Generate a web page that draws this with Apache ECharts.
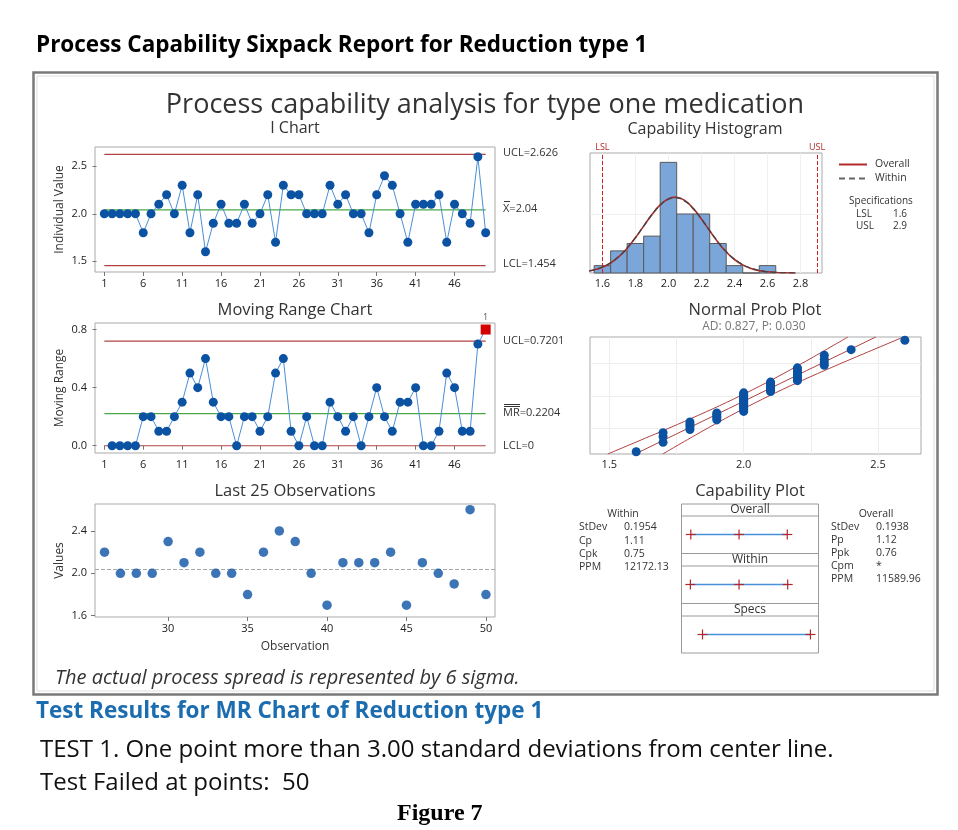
<!DOCTYPE html>
<html><head><meta charset="utf-8">
<script src="https://cdn.jsdelivr.net/npm/echarts@6/dist/echarts.min.js"></script>
<style>html,body{margin:0;padding:0;background:#fff}#c{width:958px;height:830px}</style>
</head><body><div id="c"></div>
<script>
const FONT = "'Open Sans','Noto Sans',sans-serif";

// ---------- DATA ----------
// I chart (observations 1..50)
const iValues = [2.0,2.0,2.0,2.0,2.0,1.8,2.0,2.1,2.2,2.0, 2.3,1.8,2.2,1.6,1.9,2.1,1.9,1.9,2.1,1.9,
                 2.0,2.2,1.7,2.3,2.2,2.2,2.0,2.0,2.0,2.3, 2.1,2.2,2.0,2.0,1.8,2.2,2.4,2.3,2.0,1.7,
                 2.1,2.1,2.1,2.2,1.7,2.1,2.0,1.9,2.6,1.8];
const iLimits = {UCL: 2.626, CL: 2.04, LCL: 1.454};
const obsTicks = [1,6,11,16,21,26,31,36,41,46];
const iYTicks = [1.5,2.0,2.5];
// Moving range (observations 2..50)
const mrValues = [0,0,0,0,0.2,0.2,0.1,0.1,0.2, 0.3,0.5,0.4,0.6,0.3,0.2,0.2,0,0.2,0.2,
                  0.1,0.2,0.5,0.6,0.1,0,0.2,0,0,0.3, 0.2,0.1,0.2,0,0.2,0.4,0.2,0.1,0.3,0.3,
                  0.4,0,0,0.1,0.5,0.4,0.1,0.1,0.7,0.8];
const mrLimits = {UCL: 0.7201, CL: 0.2204, LCL: 0};
const mrFlagged = [50];
const mrYTicks = [0,0.4,0.8];
// Last 25 observations
const last25Obs = [26,27,28,29,30,31,32,33,34,35,36,37,38,39,40,41,42,43,44,45,46,47,48,49,50];
const last25Values = [2.2,2.0,2.0,2.0,2.3,2.1,2.2,2.0,2.0,1.8,2.2,2.4,2.3,2.0,1.7,2.1,2.1,2.1,2.2,1.7,2.1,2.0,1.9,2.6,1.8];
const last25XTicks = [30,35,40,45,50];
const last25YTicks = [1.6,2.0,2.4];
// Capability histogram
const histCenters = [1.6,1.7,1.8,1.9,2.0,2.1,2.2,2.3,2.4,2.5,2.6];
const histCounts  = [1,3,4,5,15,8,8,4,1,0,1];
const histBinWidth = 0.1;
const histTicks = [1.6,1.8,2.0,2.2,2.4,2.6,2.8];
const curveX       = [1.52,1.55,1.6,1.65,1.7,1.75,1.8,1.85,1.9,1.95,2.0,2.04,2.05,2.1,2.15,2.2,2.25,2.3,2.35,2.4,2.45,2.5,2.55,2.6,2.65,2.7,2.77];
const curveOverall = [0.28,0.42,0.78,1.36,2.21,3.36,4.78,6.36,7.92,9.24,10.07,10.29,10.28,9.81,8.76,7.32,5.72,4.18,2.86,1.83,1.10,0.62,0.32,0.16,0.07,0.03,0.01];
const curveWithin  = [0.30,0.44,0.81,1.39,2.25,3.40,4.80,6.36,7.90,9.18,10.00,10.21,10.20,9.74,8.71,7.30,5.73,4.21,2.90,1.87,1.13,0.64,0.34,0.17,0.08,0.03,0.01];
const specNames = ['LSL','USL'];
const specValues = [1.6, 2.9];
// Normal probability plot
const normValues = [1.6,1.7,1.7,1.7,1.8,1.8,1.8,1.8,1.9,1.9,1.9,1.9,1.9,
  2.0,2.0,2.0,2.0,2.0,2.0,2.0,2.0,2.0,2.0,2.0,2.0,2.0,2.0,2.0,
  2.1,2.1,2.1,2.1,2.1,2.1,2.1,2.1, 2.2,2.2,2.2,2.2,2.2,2.2,2.2,2.2, 2.3,2.3,2.3,2.3, 2.4, 2.6];
const normZ = [-2.200,-1.829,-1.611,-1.451,-1.321,-1.210,-1.113,-1.025,-0.944,-0.869,-0.798,-0.732,-0.668,
  -0.607,-0.549,-0.492,-0.436,-0.382,-0.329,-0.277,-0.226,-0.175,-0.125,-0.075,-0.025,0.025,0.075,0.125,
  0.175,0.226,0.277,0.329,0.382,0.436,0.492,0.549, 0.607,0.668,0.732,0.798,0.869,0.944,1.025,1.113,
  1.210,1.321,1.451,1.611, 1.829, 2.200];
const normXTicks = [1.5,2.0,2.5];
const normXGrid = [1.5,1.75,2.0,2.25,2.5];
const normZGrid = [-1.2816,0,1.2816];
const bandZ     = [-2.29,-1.5,-1,-0.5,0,0.5,1,1.5,2.33];
const fitX      = [1.5962,1.7493,1.8462,1.9431,2.04,2.1369,2.2338,2.3307,2.4916];
const bandLeftX = [1.494,1.671,1.7804,1.8861,1.9863,2.0799,2.168,2.2524,2.3881];
const bandRightX= [1.6984,1.8276,1.912,2.0001,2.0937,2.1939,2.2996,2.409,2.5951];
// Capability plot
const capOverall = [1.459, 2.04, 2.621];
const capWithin  = [1.454, 2.04, 2.626];
const capSpecs   = [1.6, 2.9];
const withinLabels = ['StDev','Cp','Cpk','PPM'];
const withinVals   = ['0.1954','1.11','0.75','12172.13'];
const overallLabels = ['StDev','Pp','Ppk','Cpm','PPM'];
const overallVals   = ['0.1938','1.12','0.76','*','11589.96'];

// ---------- STYLE ----------
const BLUE_PT = '#0b52a3', BLUE_LN = '#4a8fd6', RED_LN = '#b04444', GREEN_LN = '#4aa84a';
const gridBox = {show:true, borderColor:'#a9a9a9', borderWidth:1, backgroundColor:'#fff'};
const lbl = (extra) => Object.assign({fontSize:11, color:'#222', fontFamily:FONT}, extra||{});
const f1 = v => Number(v).toFixed(1);

function valX(grid, min, max, ticks, opts){
  return Object.assign({gridIndex:grid, type:'value', min:min, max:max,
    axisLine:{show:false},
    axisTick:{show:true, customValues:ticks, length:4, lineStyle:{color:'#777'}},
    axisLabel:lbl({customValues:ticks, margin:6}),
    splitLine:{show:false}}, opts||{});
}
function valY(grid, min, max, ticks, name, opts){
  return Object.assign({gridIndex:grid, type:'value', min:min, max:max,
    name:name, nameLocation:'middle', nameGap:29,
    nameTextStyle:{fontSize:12, color:'#333', fontFamily:FONT},
    axisLine:{show:false},
    axisTick:{show:true, customValues:ticks, length:4, lineStyle:{color:'#777'}},
    axisLabel:lbl({customValues:ticks, margin:8, formatter:f1}),
    splitLine:{show:false}}, opts||{});
}
const hline = (xi, yi, x0, x1, y, color, extra) => Object.assign({type:'line', xAxisIndex:xi, yAxisIndex:yi,
  data:[[x0,y],[x1,y]], symbol:'none', silent:true, lineStyle:{color:color, width:1.2}, z:2}, extra||{});

function crossItem(params, api){
  const p = api.coord([api.value(0), api.value(1)]);
  const s = 5, st = {stroke:'#b3262b', lineWidth:1.2};
  return {type:'group', children:[
    {type:'line', shape:{x1:p[0]-s, y1:p[1], x2:p[0]+s, y2:p[1]}, style:st},
    {type:'line', shape:{x1:p[0], y1:p[1]-s, x2:p[0], y2:p[1]+s}, style:st}]};
}
function histItem(params, api){
  const c = api.value(0), n = api.value(1);
  const a = api.coord([c - histBinWidth/2, n]);
  const b = api.coord([c + histBinWidth/2, 0]);
  return {type:'rect', shape:{x:a[0], y:a[1], width:b[0]-a[0], height:b[1]-a[1]},
    style:{fill:'#7ba6da', stroke:'#5a5a5a', lineWidth:1}};
}

// ---------- GRIDS ----------
const grids = [
  Object.assign({left:95, top:147, width:400, height:125}, gridBox),   // 0 I chart
  Object.assign({left:95, top:323, width:400, height:130}, gridBox),   // 1 MR
  Object.assign({left:95, top:504, width:400, height:113}, gridBox),   // 2 last 25
  Object.assign({left:590, top:153, width:232, height:120}, gridBox),  // 3 histogram
  Object.assign({left:590, top:337, width:331, height:117}, gridBox),  // 4 normal
  {left:682, top:516, width:136, height:37, show:false},               // 5 cap overall
  {left:682, top:566, width:136, height:37, show:false},               // 6 cap within
  {left:682, top:616, width:136, height:37, show:false}                // 7 cap specs
];

const xAxes = [
  valX(0, -0.2, 51.2, obsTicks),
  valX(1, -0.2, 51.2, obsTicks),
  valX(2, 25.4, 50.57, last25XTicks, {name:'Observation', nameLocation:'middle', nameGap:24,
       nameTextStyle:{fontSize:12, color:'#333', fontFamily:FONT}}),
  valX(3, 1.525, 2.93, histTicks, {axisTick:{show:false, customValues:histTicks},
       axisLabel:lbl({customValues:histTicks, margin:5, formatter:f1}),
       splitLine:{show:true, lineStyle:{color:'#f0f0f0'}}}),
  valX(4, 1.428, 2.66, normXTicks, {axisTick:{show:false, customValues:normXGrid},
       axisLabel:lbl({customValues:normXTicks, margin:5, formatter:f1}),
       splitLine:{show:true, lineStyle:{color:'#ededed'}}}),
  {gridIndex:5, type:'value', min:1.353, max:2.991, show:false},
  {gridIndex:6, type:'value', min:1.353, max:2.991, show:false},
  {gridIndex:7, type:'value', min:1.353, max:2.991, show:false}
];
const yAxes = [
  valY(0, 1.387, 2.703, iYTicks, 'Individual Value'),
  valY(1, -0.05, 0.845, mrYTicks, 'Moving Range'),
  valY(2, 1.588, 2.654, last25YTicks, 'Values'),
  {gridIndex:3, type:'value', min:0, max:16.27, axisLine:{show:false}, axisLabel:{show:false},
   axisTick:{show:false, customValues:[8]}, splitLine:{show:true, lineStyle:{color:'#f0f0f0'}}},
  {gridIndex:4, type:'value', min:-2.29, max:2.33, axisLine:{show:false}, axisLabel:{show:false},
   axisTick:{show:false, customValues:normZGrid}, splitLine:{show:true, lineStyle:{color:'#ededed'}}},
  {gridIndex:5, type:'category', data:['Overall'], show:false},
  {gridIndex:6, type:'category', data:['Within'], show:false},
  {gridIndex:7, type:'category', data:['Specs'], show:false}
];

// ---------- SERIES ----------
const series = [];
// I chart
series.push(hline(0,0,1,50,iLimits.UCL,RED_LN));
series.push(hline(0,0,1,50,iLimits.LCL,RED_LN));
series.push(hline(0,0,1,50,iLimits.CL,GREEN_LN));
series.push({type:'line', xAxisIndex:0, yAxisIndex:0, data:iValues.map((v,k)=>[k+1,v]),
  symbol:'circle', symbolSize:9, itemStyle:{color:BLUE_PT}, lineStyle:{color:BLUE_LN, width:1}, z:5});
// MR chart
series.push(hline(1,1,1,50,mrLimits.UCL,RED_LN));
series.push(hline(1,1,1,50,mrLimits.LCL,RED_LN));
series.push(hline(1,1,1,50,mrLimits.CL,GREEN_LN));
series.push({type:'line', xAxisIndex:1, yAxisIndex:1,
  data:mrValues.map((v,k)=>{
    const obs = k+2;
    if (mrFlagged.indexOf(obs) >= 0) return {value:[obs,v], symbol:'rect', symbolSize:10,
      itemStyle:{color:'#d40000'},
      label:{show:true, formatter:'1', position:'top', distance:3, fontSize:9, color:'#555', fontFamily:FONT}};
    return [obs,v];
  }),
  symbol:'circle', symbolSize:9, itemStyle:{color:BLUE_PT}, lineStyle:{color:BLUE_LN, width:1}, z:5});
// Last 25
series.push({type:'scatter', xAxisIndex:2, yAxisIndex:2, data:last25Obs.map((o,k)=>[o,last25Values[k]]),
  symbolSize:9.5, itemStyle:{color:BLUE_PT}, z:5,
  markLine:{silent:true, symbol:'none', label:{show:false},
    lineStyle:{type:'dashed', color:'#a8a8a8', width:1}, data:[{yAxis:iLimits.CL}]}});
// Histogram
series.push({type:'custom', xAxisIndex:3, yAxisIndex:3, renderItem:histItem,
  data:histCenters.map((c,k)=>[c,histCounts[k]]), z:2});
series.push({type:'line', xAxisIndex:3, yAxisIndex:3, data:curveX.map((x,k)=>[x,curveOverall[k]]),
  symbol:'none', smooth:true, lineStyle:{color:'#b22a2a', width:1.6}, z:4,
  markLine:{silent:true, symbol:'none', lineStyle:{type:'dashed', color:'#d11f1f', width:1},
    label:{position:'end', distance:1, fontSize:9, color:'#b22a2a', fontFamily:FONT},
    data:specValues.map((v,k)=>({xAxis:v, label:{formatter:specNames[k]}}))}});
series.push({type:'line', xAxisIndex:3, yAxisIndex:3, data:curveX.map((x,k)=>[x,curveWithin[k]]),
  symbol:'none', smooth:true, lineStyle:{color:'#444', width:1.3, type:[6,3]}, z:5});
// Normal probability plot
const bandStyle = {color:'#b24040', width:1};
series.push({type:'line', xAxisIndex:4, yAxisIndex:4, data:bandZ.map((z,k)=>[fitX[k],z]),
  symbol:'none', lineStyle:bandStyle, z:3, silent:true});
series.push({type:'line', xAxisIndex:4, yAxisIndex:4, data:bandZ.map((z,k)=>[bandLeftX[k],z]),
  symbol:'none', smooth:0.3, lineStyle:bandStyle, z:3, silent:true});
series.push({type:'line', xAxisIndex:4, yAxisIndex:4, data:bandZ.map((z,k)=>[bandRightX[k],z]),
  symbol:'none', smooth:0.3, lineStyle:bandStyle, z:3, silent:true});
series.push({type:'scatter', xAxisIndex:4, yAxisIndex:4, data:normValues.map((v,k)=>[v,normZ[k]]),
  symbolSize:9, itemStyle:{color:BLUE_PT, opacity:1}, z:5});
// Capability plot rows
[[5,capOverall],[6,capWithin],[7,capSpecs]].forEach(([g,vals])=>{
  series.push({type:'line', xAxisIndex:g, yAxisIndex:g, data:[[vals[0],0],[vals[vals.length-1],0]],
    symbol:'none', lineStyle:{color:'#4a90d9', width:1.5}, silent:true, z:3});
  series.push({type:'custom', xAxisIndex:g, yAxisIndex:g, renderItem:crossItem,
    data:vals.map(v=>[v,0]), z:4, silent:true});
});

// ---------- GRAPHIC (texts, frame) ----------
function T(x, y, text, o){
  o = o || {};
  return {type:'text', x:x, y:y, z:10, silent:true, style:{text:text,
    fontSize:o.size||11, fontFamily:o.family||FONT, fontWeight:o.weight||'normal',
    fontStyle:o.style||'normal', fill:o.color||'#333',
    textAlign:o.align||'left', textVerticalAlign:'middle'}};
}
function L(x1,y1,x2,y2,color,w,dash){
  return {type:'line', z:10, silent:true, shape:{x1:x1,y1:y1,x2:x2,y2:y2},
    style:{stroke:color, lineWidth:w||1, lineDash:dash||null}};
}
const g = [];
g.push({type:'rect', z:1, silent:true, shape:{x:33.5, y:72.5, width:904, height:622},
  style:{fill:'none', stroke:'#7a7a7a', lineWidth:2.5}});
g.push({type:'rect', z:1, silent:true, shape:{x:37, y:76, width:897, height:615},
  style:{fill:'none', stroke:'#dedede', lineWidth:1}});
g.push(T(36, 46, 'Process Capability Sixpack Report for Reduction type 1', {size:22.5, weight:'bold', color:'#000'}));
g.push(T(485, 105, 'Process capability analysis for type one medication', {size:27, align:'center', color:'#333'}));
g.push(T(295, 128, 'I Chart', {size:16, align:'center'}));
g.push(T(705, 129, 'Capability Histogram', {size:16, align:'center'}));
g.push(T(295, 310, 'Moving Range Chart', {size:16.5, align:'center'}));
g.push(T(755, 310, 'Normal Prob Plot', {size:16.5, align:'center'}));
g.push(T(754, 326.5, 'AD: 0.827, P: 0.030', {size:12, align:'center', color:'#777'}));
g.push(T(295, 491.5, 'Last 25 Observations', {size:16.5, align:'center'}));
g.push(T(750, 491.5, 'Capability Plot', {size:16.5, align:'center'}));
// control limit labels
g.push(T(503, 153, 'UCL=' + iLimits.UCL, {size:11}));
g.push(T(503, 209, 'X=' + iLimits.CL, {size:11}));
g.push(L(504, 201.5, 510, 201.5, '#333', 1));
g.push(T(503, 264, 'LCL=' + iLimits.LCL, {size:11}));
g.push(T(503, 341, 'UCL=' + mrLimits.UCL, {size:11}));
g.push(T(503, 413, 'MR=' + mrLimits.CL, {size:11}));
g.push(L(504, 406.5, 520, 406.5, '#333', 1));
g.push(L(504, 404.5, 520, 404.5, '#333', 1));
g.push(T(503, 445.5, 'LCL=' + mrLimits.LCL, {size:11}));
// histogram legend
g.push(L(839, 164.5, 867, 164.5, '#b22a2a', 2));
g.push(T(875, 164.5, 'Overall', {size:10.5}));
g.push(L(839, 178.5, 867, 178.5, '#666', 2, [6,4]));
g.push(T(875, 178.5, 'Within', {size:10.5}));
g.push(T(881, 201, 'Specifications', {size:10, align:'center'}));
specNames.forEach((n,k)=>{
  g.push(T(856, 214 + k*12.5, n, {size:10}));
  g.push(T(907, 214 + k*12.5, String(specValues[k]), {size:10, align:'right'}));
});
// capability plot box
g.push({type:'rect', z:6, silent:true, shape:{x:681.5, y:504, width:137, height:149},
  style:{fill:'none', stroke:'#9a9a9a', lineWidth:1}});
[516, 553.5, 566, 603.5, 616].forEach(y=>g.push(L(681.5, y, 818.5, y, '#9a9a9a', 1)));
g.push(T(750, 510, 'Overall', {size:12, align:'center'}));
g.push(T(750, 560, 'Within', {size:12, align:'center'}));
g.push(T(750, 610, 'Specs', {size:12, align:'center'}));
// stats tables
g.push(T(623, 514.5, 'Within', {size:10.5, align:'center'}));
withinLabels.forEach((s,k)=>{
  g.push(T(579, 527.5 + k*13.2, s, {size:10.5}));
  g.push(T(624, 527.5 + k*13.2, withinVals[k], {size:10.5}));
});
g.push(T(876, 514.5, 'Overall', {size:10.5, align:'center'}));
overallLabels.forEach((s,k)=>{
  g.push(T(831, 527.5 + k*13.0, s, {size:10.5}));
  g.push(T(876, 527.5 + k*13.0, overallVals[k], {size:10.5}));
});
// bottom texts
g.push(T(55, 678, 'The actual process spread is represented by 6 sigma.', {size:20, style:'italic', color:'#333'}));
g.push(T(36, 712, 'Test Results for MR Chart of Reduction type 1', {size:22.5, weight:'bold', color:'#1b6db0'}));
g.push(T(40, 750, 'TEST 1. One point more than 3.00 standard deviations from center line.', {size:24, color:'#111'}));
g.push(T(40, 783, 'Test Failed at points:  50', {size:24, color:'#111'}));
g.push(T(397, 814, 'Figure 7', {size:24, weight:'bold', color:'#000', family:"'Liberation Serif','Times New Roman',serif"}));

const chart = echarts.init(document.getElementById('c'), null, {renderer:'canvas'});
chart.setOption({
  backgroundColor:'#fff',
  animation:false,
  textStyle:{fontFamily:FONT},
  grid:grids, xAxis:xAxes, yAxis:yAxes, series:series, graphic:g
});
</script></body></html>
